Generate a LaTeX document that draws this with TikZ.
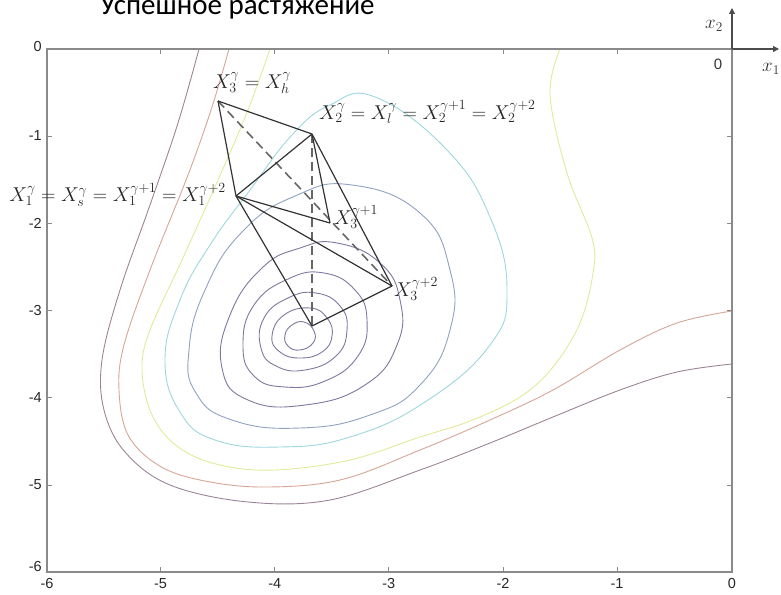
\documentclass[tikz,border=0pt]{standalone}
\usepackage{fix-cm}
\usepackage{fontspec}
\setsansfont{Liberation Sans}
\newfontfamily\titlefont{Carlito}
\usetikzlibrary{arrows.meta}
\definecolor{cpurple}{HTML}{7C789E}
\definecolor{cblue}{HTML}{8FA2C0}
\definecolor{ccyan}{HTML}{9ED6DE}
\definecolor{cyellow}{HTML}{E2EA9A}
\definecolor{corange}{HTML}{D6A696}
\definecolor{cmauve}{HTML}{9C8496}
\definecolor{caxis}{HTML}{8A8A8A}
\begin{document}
\begin{tikzpicture}[x=1pt,y=-1pt,
  contour/.style={line width=0.9pt},
  frame/.style={draw=caxis,line width=1.1pt},
  tick/.style={draw=caxis,line width=0.8pt},
  ticklab/.style={font=\sffamily\fontsize{14.5}{16}\selectfont,text=black!85,inner sep=1pt},
  edge/.style={draw=black!80,line width=1.2pt,line join=round},
  dashedge/.style={draw=black!60,line width=1.6pt,dash pattern=on 9pt off 5pt},
  lab/.style={font=\fontsize{20}{24}\selectfont,inner sep=1pt,text=black!85}]
\useasboundingbox (0,0) rectangle (781,594);
% title
\node[anchor=base west,font=\titlefont\fontsize{29}{32}\selectfont,inner sep=0pt] (title) at (100,15) {Успешное растяжение};
% contours: closed rings
\draw[contour,cpurple] plot[smooth cycle,tension=0.8] coordinates {(304,322) (314,331) (313,343) (300,350) (288,346) (285,335) (292,325)};
\draw[contour,cpurple] plot[smooth cycle,tension=0.8] coordinates {(310,308) (327,318) (332,336) (322,352) (300,358) (280,352) (272,336) (284,315)};
\draw[contour,cpurple] plot[smooth cycle,tension=0.8] coordinates {(316,293) (340,306) (347,330) (336,356) (305,370) (276,366) (261,348) (264,318) (288,298)};
\draw[contour,cpurple] plot[smooth cycle,tension=0.8] coordinates {(324,273) (355,290) (367,320) (358,356) (325,381) (285,387) (254,376) (243,345) (254,305) (288,279)};
\draw[contour,cpurple] plot[smooth cycle,tension=0.8] coordinates {(337,243) (380,263) (400,300) (397,345) (365,385) (305,405) (248,400) (222,368) (230,315) (262,268) (300,248)};
\draw[contour,cblue] plot[smooth cycle,tension=0.8] coordinates {(352,185) (420,213) (450,270) (450,330) (420,385) (370,415) (300,428) (232,420) (196,393) (189,350) (205,290) (242,232) (295,196)};
\draw[contour,ccyan] plot[smooth cycle,tension=0.75] coordinates {(375,97) (447,150) (490,217) (507,290) (490,345) (425,402) (350,437) (280,447) (215,440) (180,412) (165,360) (180,300) (210,245) (250,190) (292,135) (330,105)};
% contours: open
\draw[contour,cyellow] plot[smooth,tension=0.6] coordinates {(270,49) (248,110) (218,180) (182,260) (150,330) (142,370) (152,415) (178,447) (220,465) (275,470) (350,460) (420,437) (470,421) (520,397) (553,367) (580,323) (593,273) (592,238) (567,173) (550,95) (560,49)};
\draw[contour,corange] plot[smooth,tension=0.6] coordinates {(229,49) (212,107) (188,175) (150,270) (124,345) (119,390) (128,435) (158,465) (200,480) (262,487) (340,480) (420,450) (490,420) (553,390) (620,350) (677,323) (732,311)};
\draw[contour,cmauve] plot[smooth,tension=0.6] coordinates {(199,49) (178,123) (150,205) (120,290) (102,360) (104,410) (125,452) (170,485) (248,502) (330,500) (420,470) (490,443) (553,417) (620,390) (677,372) (732,364)};
% frame
\draw[frame] (47,49) rectangle (732,572);
\foreach \x in {160.5,274.7,388.8,503,617}{
  \draw[tick] (\x,49) -- (\x,54);
  \draw[tick] (\x,572) -- (\x,567);
}
\foreach \y in {136,223.5,310.6,397.8,485}{
  \draw[tick] (47,\y) -- (52,\y);
  \draw[tick] (732,\y) -- (727,\y);
}
% tick labels
\node[ticklab,anchor=east] (y0) at (43,47) {0};
\node[ticklab,anchor=east] (y1) at (43,136) {-1};
\node[ticklab,anchor=east] (y2) at (43,223.5) {-2};
\node[ticklab,anchor=east] (y3) at (43,310.6) {-3};
\node[ticklab,anchor=east] (y4) at (43,397.8) {-4};
\node[ticklab,anchor=east] (y5) at (43,485) {-5};
\node[ticklab,anchor=east] (y6) at (43,567) {-6};
\node[ticklab,anchor=north] (x6) at (47,577) {-6};
\node[ticklab,anchor=north] (x5) at (160.5,577) {-5};
\node[ticklab,anchor=north] (x4) at (274.7,577) {-4};
\node[ticklab,anchor=north] (x3) at (388.8,577) {-3};
\node[ticklab,anchor=north] (x2) at (503,577) {-2};
\node[ticklab,anchor=north] (x1) at (617,577) {-1};
\node[ticklab,anchor=north] (x0) at (732,577) {0};
% coordinate axes at top right
\coordinate (O) at (732,49);
\coordinate (X2end) at (732,8);
\coordinate (X1end) at (779,49);
\draw[draw=black!70,line width=1.1pt,-{Triangle[length=6pt,width=6pt]}] (O) -- (X2end);
\draw[draw=black!70,line width=1.1pt,-{Triangle[length=6pt,width=6pt]}] (O) -- (X1end);
\node[font=\fontsize{19}{22}\selectfont,text=black!80,inner sep=0pt] (lx2) at (714,26) {$x_2$};
\node[font=\sffamily\fontsize{15}{17}\selectfont,text=black!80,inner sep=0pt] (l0) at (718,64) {0};
\node[font=\fontsize{19}{22}\selectfont,text=black!80,inner sep=0pt] (lx1) at (771,69) {$x_1$};
% simplex vertices
\coordinate (Xh) at (218,101);
\coordinate (Xl) at (312,134);
\coordinate (Xs) at (236,196);
\coordinate (Xr) at (330,223);
\coordinate (Xe) at (392,286);
\coordinate (Xc) at (312,326);
% dashed lines
\draw[dashedge] (Xh) -- (Xe);
\draw[dashedge] (Xl) -- (Xc);
% solid edges
\draw[edge] (Xh) -- (Xl);
\draw[edge] (Xh) -- (Xs);
\draw[edge] (Xs) -- (Xl);
\draw[edge] (Xl) -- (Xr);
\draw[edge] (Xs) -- (Xr);
\draw[edge] (Xl) -- (Xe);
\draw[edge] (Xs) -- (Xe);
\draw[edge] (Xs) -- (Xc);
\draw[edge] (Xc) -- (Xe);
% labels
\node[lab] (lh) at (252,83) {$X_3^\gamma = X_h^\gamma$};
\node[lab,anchor=west] (ll) at (318,112) {$X_2^\gamma = X_l^\gamma = X_2^{\gamma+1} = X_2^{\gamma+2}$};
\node[lab,anchor=east] (ls) at (227,195) {$X_1^\gamma = X_s^\gamma = X_1^{\gamma+1} = X_1^{\gamma+2}$};
\node[lab,anchor=west] (lr) at (333,217) {$X_3^{\gamma+1}$};
\node[lab,anchor=west] (le) at (393,289) {$X_3^{\gamma+2}$};
\end{tikzpicture}
\end{document}
